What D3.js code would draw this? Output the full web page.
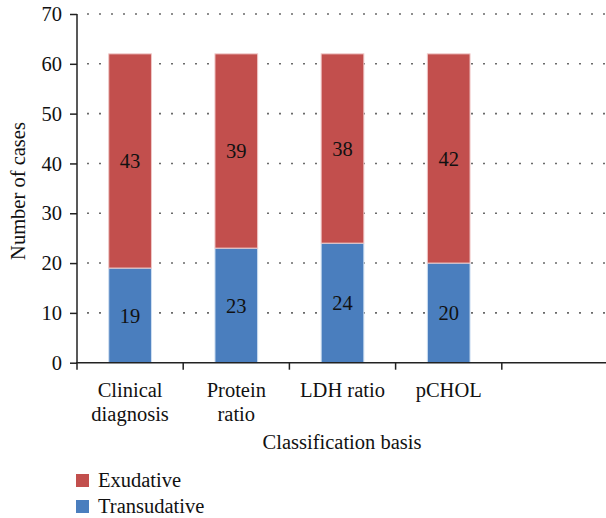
<!DOCTYPE html>
<html>
<head>
<meta charset="utf-8">
<script src="https://cdn.jsdelivr.net/npm/d3@7"></script>
<style>
  html, body { margin: 0; padding: 0; background: #fff; }
  svg { display: block; }
  text { font-family: "Liberation Serif", "DejaVu Serif", serif; fill: #111; }
</style>
</head>
<body>
<svg id="chart" width="606" height="518"></svg>
<script>
const categories = [["Clinical", "diagnosis"], ["Protein", "ratio"], ["LDH ratio"], ["pCHOL"], [""]];
const categoryKeys = ["Clinical diagnosis", "Protein ratio", "LDH ratio", "pCHOL", "blank"];
const transudative = [19, 23, 24, 20];
const exudative = [43, 39, 38, 42];
const yTicks = [0, 10, 20, 30, 40, 50, 60, 70];
const seriesNames = ["Exudative", "Transudative"];
const seriesColors = ["#C24F4D", "#4A7EBE"];
const xTitle = "Classification basis";
const yTitle = "Number of cases";

const FS = 20.5;
const svg = d3.select("#chart");
const mLeft = 77, mRight = 608, mTop = 14, mBottom = 362.7;

const x = d3.scaleBand().domain(categoryKeys).range([mLeft, mRight]).paddingInner(0).paddingOuter(0);
const y = d3.scaleLinear().domain([0, 70]).range([mBottom, mTop]);
const barW = x.bandwidth() * 0.402;

// gridlines (dotted)
svg.append("g").selectAll("line").data(yTicks.filter(d => d > 0)).join("line")
  .attr("x1", mLeft + 10).attr("x2", 606)
  .attr("y1", d => y(d)).attr("y2", d => y(d))
  .attr("stroke", "#6a6a6a").attr("stroke-width", 1.6)
  .attr("stroke-dasharray", "2,10");

// bars
const data = categoryKeys.slice(0, 4).map((k, i) => ({ k, t: transudative[i], e: exudative[i] }));
const g = svg.append("g");
data.forEach(d => {
  const cx = x(d.k) + x.bandwidth() / 2;
  g.append("rect")
    .attr("x", cx - barW / 2).attr("width", barW)
    .attr("y", y(d.t)).attr("height", y(0) - y(d.t))
    .attr("fill", seriesColors[1]).attr("stroke", "#cfe0f2").attr("stroke-width", 1);
  g.append("rect")
    .attr("x", cx - barW / 2).attr("width", barW)
    .attr("y", y(d.t + d.e)).attr("height", y(d.t) - y(d.t + d.e))
    .attr("fill", seriesColors[0]).attr("stroke", "#f0c9c8").attr("stroke-width", 1);
  g.append("text").attr("x", cx).attr("y", y(d.t / 2)).attr("dy", "0.35em")
    .attr("text-anchor", "middle").attr("font-size", FS).text(d.t);
  g.append("text").attr("x", cx).attr("y", y(d.t + d.e / 2)).attr("dy", "0.35em")
    .attr("text-anchor", "middle").attr("font-size", FS).text(d.e);
});

// y axis
const yAxis = svg.append("g").attr("transform", `translate(${mLeft},0)`)
  .call(d3.axisLeft(y).tickValues(yTicks).tickSize(7).tickPadding(8));
yAxis.select(".domain").attr("stroke", "#222").attr("stroke-width", 1.5).attr("d", `M0,${mTop}V${mBottom}`);
yAxis.selectAll(".tick line").attr("stroke", "#222").attr("stroke-width", 1.5);
yAxis.selectAll(".tick text").attr("font-size", FS).attr("font-family", "Liberation Serif").attr("fill", "#111");

// x axis
const xAxisG = svg.append("g").attr("transform", `translate(0,${mBottom})`);
xAxisG.append("line").attr("x1", mLeft - 1).attr("x2", 606).attr("y1", 0).attr("y2", 0)
  .attr("stroke", "#222").attr("stroke-width", 1.5);
const boundaries = categoryKeys.map(k => x(k));
xAxisG.selectAll("line.tk").data(boundaries).join("line").attr("class", "tk")
  .attr("x1", d => d).attr("x2", d => d).attr("y1", 0).attr("y2", 7)
  .attr("stroke", "#222").attr("stroke-width", 1.5);
categoryKeys.forEach((k, i) => {
  const cx = x(k) + x.bandwidth() / 2;
  const t = xAxisG.append("text").attr("text-anchor", "middle").attr("font-size", FS);
  categories[i].forEach((line, j) => {
    t.append("tspan").attr("x", cx).attr("y", 34 + j * 24).text(line);
  });
});

// axis titles
svg.append("text").attr("x", 342).attr("y", 449).attr("text-anchor", "middle")
  .attr("font-size", FS).text(xTitle);
svg.append("text").attr("transform", "translate(25,191) rotate(-90)").attr("text-anchor", "middle")
  .attr("font-size", FS).text(yTitle);

// legend
const leg = svg.append("g");
seriesNames.forEach((n, i) => {
  const yy = 474 + i * 26;
  leg.append("rect").attr("x", 76).attr("y", yy).attr("width", 13).attr("height", 13).attr("fill", seriesColors[i]);
  leg.append("text").attr("x", 98).attr("y", yy + 13).attr("font-size", FS).text(n);
});
</script>
</body>
</html>
